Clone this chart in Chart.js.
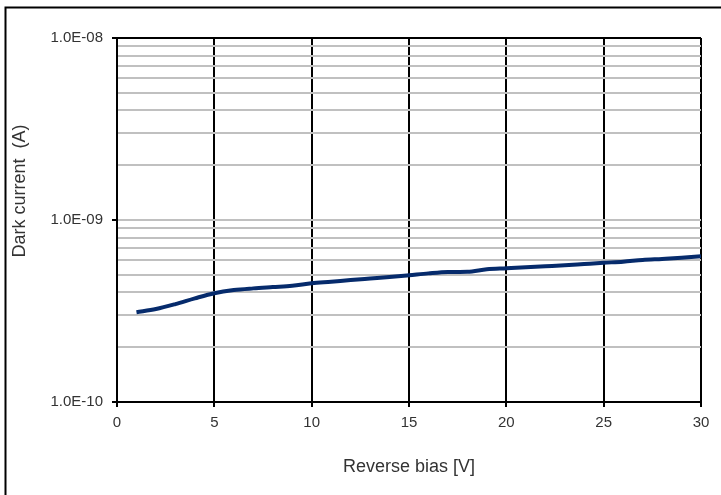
<!DOCTYPE html>
<html>
<head>
<meta charset="utf-8">
<script src="https://cdn.jsdelivr.net/npm/chart.js@4"></script>
<style>
  html, body { margin: 0; padding: 0; background: #fff; }
  #wrap { width: 721px; height: 495px; }
</style>
</head>
<body>
<div id="wrap"><canvas id="darkCanvas" width="721" height="495"></canvas></div>
<script>
// reverse bias (V) and dark current (A)
const biasV = [1, 2, 3, 4, 5, 6, 7, 8, 9, 10, 11, 12, 13, 14, 15,
               16, 17, 18, 19, 20, 21, 22, 23, 24, 25, 26, 27, 28, 29, 30];
const darkCurrent = [3.11e-10, 3.24e-10, 3.45e-10, 3.71e-10, 3.96e-10, 4.12e-10, 4.21e-10, 4.28e-10, 4.35e-10, 4.49e-10,
                     4.58e-10, 4.68e-10, 4.77e-10, 4.86e-10, 4.97e-10, 5.09e-10, 5.18e-10, 5.20e-10, 5.36e-10, 5.43e-10,
                     5.50e-10, 5.57e-10, 5.64e-10, 5.73e-10, 5.82e-10, 5.90e-10, 6.03e-10, 6.11e-10, 6.20e-10, 6.32e-10];
const yTicks = [1e-10, 2e-10, 3e-10, 4e-10, 5e-10, 6e-10, 7e-10, 8e-10, 9e-10,
                1e-9, 2e-9, 3e-9, 4e-9, 5e-9, 6e-9, 7e-9, 8e-9, 9e-9, 1e-8];
const xTitle = "Reverse bias [V]";
const yTitle = "Dark current  (A)";

function isDecade(v) {
  const e = Math.log10(v);
  return Math.abs(e - Math.round(e)) < 1e-6;
}
function sciLabel(v) {
  const e = Math.round(Math.log10(v));
  const s = String(Math.abs(e)).padStart(2, "0");
  return "1.0E" + (e < 0 ? "-" : "+") + s;
}

// frame edge (left and top only, the rest is cut off) and the rotated y title
const framePlugin = {
  id: "frame",
  afterDraw(chart) {
    const c = chart.ctx;
    c.save();
    c.strokeStyle = "#000";
    c.lineWidth = 2;
    c.beginPath();
    c.moveTo(5.5, 495);
    c.lineTo(5.5, 7.5);
    c.lineTo(721, 7.5);
    c.stroke();
    c.translate(20, 191);
    c.rotate(-Math.PI / 2);
    c.fillStyle = "#333";
    c.font = "18px 'Liberation Sans', Arial, sans-serif";
    c.textAlign = "center";
    c.textBaseline = "middle";
    c.fillText(yTitle, 0, 0);
    c.restore();
  }
};

const ctx = document.getElementById("darkCanvas");
const darkChart = new Chart(ctx, {
  type: "line",
  data: {
    datasets: [{
      data: biasV.map((x, i) => ({ x: x, y: darkCurrent[i] })),
      borderColor: "#062b6c",
      borderWidth: 4,
      pointRadius: 0,
      fill: false,
      cubicInterpolationMode: "monotone"
    }]
  },
  options: {
    responsive: false,
    animation: false,
    layout: { padding: { left: 0, right: 20, top: 38, bottom: 0 } },
    plugins: { legend: { display: false }, tooltip: { enabled: false } },
    scales: {
      x: {
        type: "linear",
        min: 0,
        max: 30,
        afterFit: (s) => { s.height = 93; },
        ticks: {
          stepSize: 5,
          padding: 7,
          color: "#333",
          font: { family: "'Liberation Sans', Arial, sans-serif", size: 15 }
        },
        grid: { color: "#000", lineWidth: 2, tickLength: 5, tickColor: "#000", tickWidth: 2 },
        border: { color: "#000", width: 2 },
        title: {
          display: true,
          text: xTitle,
          color: "#333",
          padding: { top: 0, bottom: 17 },
          font: { family: "'Liberation Sans', Arial, sans-serif", size: 18 }
        }
      },
      y: {
        type: "logarithmic",
        min: 1e-10,
        max: 1e-8,
        afterFit: (s) => { s.width = 117; },
        afterBuildTicks: (s) => { s.ticks = yTicks.map(v => ({ value: v, major: isDecade(v) })); },
        ticks: {
          autoSkip: false,
          padding: 9,
          color: "#333",
          font: { family: "'Liberation Sans', Arial, sans-serif", size: 15 },
          callback: (v) => isDecade(v) ? sciLabel(v) : ""
        },
        grid: {
          lineWidth: 2,
          tickLength: 5,
          tickWidth: 2,
          color: (c) => (c.tick && c.tick.value >= 1e-8) ? "#000" : "#c0c0c0",
          tickColor: (c) => (c.tick && isDecade(c.tick.value)) ? "#000" : "rgba(0,0,0,0)"
        },
        border: { color: "#000", width: 2 }
      }
    }
  },
  plugins: [framePlugin]
});
</script>
</body>
</html>
